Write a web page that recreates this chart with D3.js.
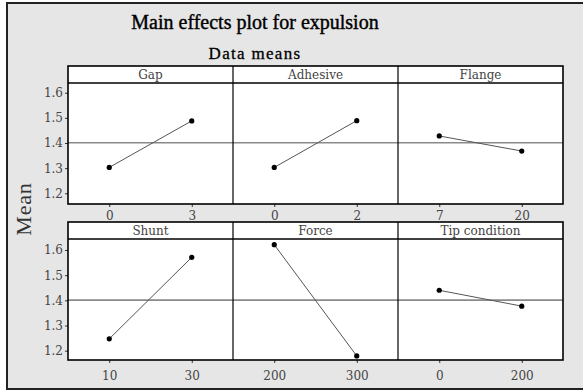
<!DOCTYPE html>
<html>
<head>
<meta charset="utf-8">
<script src="https://cdn.jsdelivr.net/npm/d3@7"></script>
<style>
  html, body { margin: 0; padding: 0; background: #ffffff; }
  svg { display: block; }
</style>
</head>
<body>
<div id="chart"></div>
<script>
// Factors, their two levels and the mean response at each level
const factors = ["Gap", "Adhesive", "Flange", "Shunt", "Force", "Tip condition"];
const levels = [["0", "3"], ["0", "2"], ["7", "20"], ["10", "30"], ["200", "300"], ["0", "200"]];
const means = [[1.303, 1.488], [1.303, 1.489], [1.428, 1.368], [1.247, 1.571], [1.621, 1.179], [1.440, 1.377]];
const grandMean = 1.401;
const yTicks = [1.2, 1.3, 1.4, 1.5, 1.6];

const W = 583, H = 391;
const svg = d3.select("#chart").append("svg").attr("width", W).attr("height", H);

// Outer frame
svg.append("rect").attr("x", 7).attr("y", 3).attr("width", 620).attr("height", 386)
  .attr("fill", "#e6e6e6").attr("stroke", "#222").attr("stroke-width", 2);

// Titles
svg.append("text").attr("x", 255).attr("y", 29).attr("text-anchor", "middle")
  .attr("font-family", "Liberation Serif").attr("font-size", 20).attr("fill", "#000")
  .attr("stroke", "#000").attr("stroke-width", 0.4)
  .text("Main effects plot for expulsion");
svg.append("text").attr("x", 255).attr("y", 59).attr("text-anchor", "middle")
  .attr("font-family", "Liberation Serif").attr("font-size", 17).attr("fill", "#000")
  .attr("letter-spacing", 1.3)
  .attr("stroke", "#000").attr("stroke-width", 0.3)
  .text("Data means");

// Y axis title
svg.append("text")
  .attr("transform", "translate(31,209) rotate(-90)")
  .attr("text-anchor", "middle")
  .attr("font-family", "Liberation Serif").attr("font-size", 22).attr("fill", "#333")
  .attr("letter-spacing", 0.8)
  .text("Mean");

// Panel grid
const left = 68, colW = 165;
const rows = [
  { top: 66, headerBottom: 83, bottom: 204, domain: [1.1575, 1.6386], labelPad: 4 },
  { top: 222, headerBottom: 239, bottom: 360, domain: [1.163, 1.6437], labelPad: 8 }
];
const font = "DejaVu Serif";

rows.forEach((r, ri) => {
  const y = d3.scaleLinear().domain(r.domain).range([r.bottom, r.headerBottom]);
  const g = svg.append("g");

  // white panel backgrounds
  g.append("rect").attr("x", left).attr("y", r.top).attr("width", colW * 3).attr("height", r.bottom - r.top)
    .attr("fill", "#fff");

  // reference line at the grand mean
  g.append("line").attr("x1", left).attr("x2", left + colW * 3)
    .attr("y1", y(grandMean)).attr("y2", y(grandMean))
    .attr("stroke", "#8a8a8a").attr("stroke-width", 1.6);

  // y axis
  const yAxis = d3.axisLeft(y).tickValues(yTicks).tickFormat(d3.format(".1f")).tickSize(3).tickPadding(2);
  const ya = g.append("g").attr("transform", `translate(${left},0)`).call(yAxis);
  ya.select(".domain").remove();
  ya.selectAll("line").attr("stroke", "#333");
  ya.selectAll("text").attr("font-family", font).attr("font-size", 12).attr("fill", "#444");

  for (let c = 0; c < 3; c++) {
    const fi = ri * 3 + c;
    const x0 = left + c * colW;
    const x = d3.scalePoint().domain(levels[fi]).range([x0, x0 + colW]).padding(0.5);

    // clip to the plotting area
    const clipId = "clip" + fi;
    svg.append("clipPath").attr("id", clipId).append("rect")
      .attr("x", x0).attr("y", r.headerBottom).attr("width", colW).attr("height", r.bottom - r.headerBottom);

    const pts = levels[fi].map((lv, i) => [x(lv), y(means[fi][i])]);
    const pg = g.append("g").attr("clip-path", `url(#${clipId})`);
    pg.append("path").attr("d", d3.line()(pts)).attr("fill", "none")
      .attr("stroke", "#555").attr("stroke-width", 1);
    pg.selectAll("circle").data(pts).join("circle")
      .attr("cx", d => d[0]).attr("cy", d => d[1]).attr("r", 2.6).attr("fill", "#000");

    // x axis
    const xAxis = d3.axisBottom(x).tickSize(3).tickPadding(r.labelPad);
    const xa = g.append("g").attr("transform", `translate(0,${r.bottom})`).call(xAxis);
    xa.select(".domain").remove();
    xa.selectAll("line").attr("stroke", "#333");
    xa.selectAll("text").attr("font-family", font).attr("font-size", 12).attr("fill", "#444");

    // header strip
    g.append("text").attr("x", x0 + colW / 2).attr("y", r.top + 13).attr("text-anchor", "middle")
      .attr("font-family", font).attr("font-size", 12).attr("fill", "#444")
      .text(factors[fi]);
  }

  // borders
  g.append("line").attr("x1", left).attr("x2", left + colW * 3)
    .attr("y1", r.headerBottom).attr("y2", r.headerBottom).attr("stroke", "#000").attr("stroke-width", 1.3);
  for (let c = 1; c < 3; c++) {
    g.append("line").attr("x1", left + c * colW).attr("x2", left + c * colW)
      .attr("y1", r.top).attr("y2", r.bottom).attr("stroke", "#000").attr("stroke-width", 1.2);
  }
  g.append("rect").attr("x", left).attr("y", r.top).attr("width", colW * 3).attr("height", r.bottom - r.top)
    .attr("fill", "none").attr("stroke", "#000").attr("stroke-width", 1.6);
});
</script>
</body>
</html>
